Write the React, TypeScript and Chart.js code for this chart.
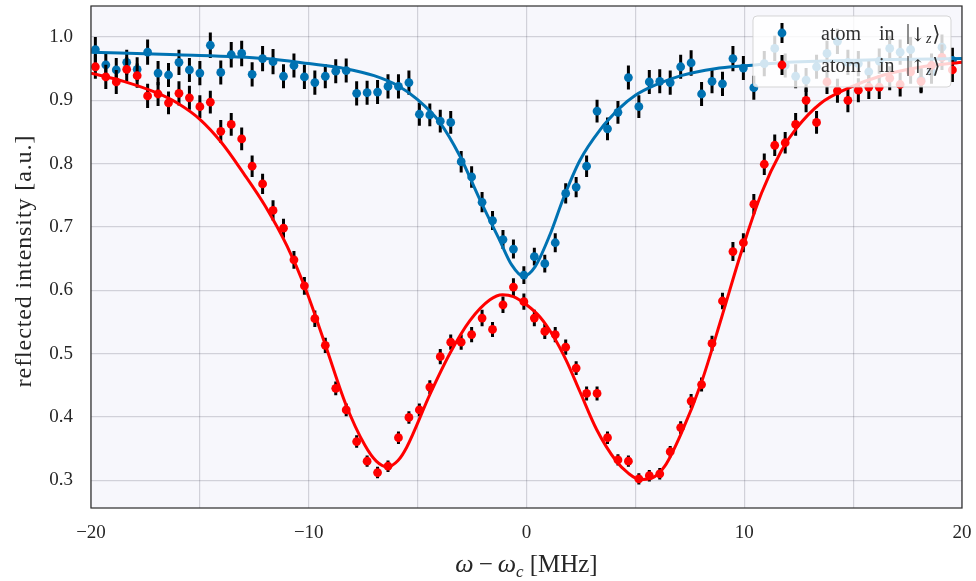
import React, { useEffect, useRef } from "react";
import { Chart, registerables } from "chart.js";

Chart.register(...registerables);

// ---------- data ----------
const detuning = [
  -19.8, -19.32, -18.84, -18.36, -17.88, -17.4, -16.92, -16.44, -15.96, -15.48,
  -15.0, -14.52, -14.04, -13.56, -13.08, -12.6, -12.12, -11.64, -11.16, -10.68,
  -10.2, -9.72, -9.24, -8.76, -8.28, -7.8, -7.32, -6.84, -6.36, -5.88,
  -5.4, -4.92, -4.44, -3.96, -3.48, -3.0, -2.52, -2.04, -1.56, -1.08,
  -0.6, -0.12, 0.36, 0.84, 1.32, 1.8, 2.28, 2.76, 3.24, 3.72,
  4.2, 4.68, 5.16, 5.64, 6.12, 6.6, 7.08, 7.56, 8.04, 8.52,
  9.0, 9.48, 9.96, 10.44, 10.92, 11.4, 11.88, 12.36, 12.84, 13.32,
  13.8, 14.28, 14.76, 15.24, 15.72, 16.2, 16.68, 17.16, 17.64, 18.12,
  18.6, 19.08, 19.56,
];

const downSignal = [
  0.980, 0.956, 0.948, 0.960, 0.949, 0.976, 0.943, 0.940, 0.960, 0.948,
  0.943, 0.987, 0.944, 0.972, 0.974, 0.941, 0.966, 0.961, 0.938, 0.955,
  0.937, 0.928, 0.938, 0.946, 0.947, 0.911, 0.912, 0.913, 0.922, 0.922,
  0.928, 0.878, 0.877, 0.867, 0.865, 0.803, 0.779, 0.739, 0.710, 0.680,
  0.665, 0.624, 0.653, 0.642, 0.675, 0.753, 0.763, 0.796, 0.883, 0.855,
  0.881, 0.936, 0.890, 0.929, 0.930, 0.928, 0.953, 0.959, 0.910, 0.930,
  0.926, 0.966, 0.951, 0.920, 0.958, 0.982, 0.955, 0.938, 0.932, 0.953,
  0.974, 0.993, 0.960, 0.958, 0.945, 0.962, 0.982, 0.976, 0.980, 0.932,
  0.945, 0.984, 0.963,
];

const downError = [
  0.020, 0.019, 0.019, 0.020, 0.019, 0.020, 0.019, 0.019, 0.020, 0.019,
  0.019, 0.020, 0.019, 0.020, 0.020, 0.019, 0.020, 0.020, 0.019, 0.019,
  0.019, 0.019, 0.019, 0.019, 0.019, 0.019, 0.019, 0.019, 0.019, 0.019,
  0.019, 0.018, 0.018, 0.018, 0.018, 0.017, 0.017, 0.016, 0.015, 0.015,
  0.015, 0.014, 0.014, 0.014, 0.015, 0.016, 0.016, 0.017, 0.018, 0.018,
  0.018, 0.019, 0.018, 0.019, 0.019, 0.019, 0.019, 0.020, 0.019, 0.019,
  0.019, 0.020, 0.019, 0.019, 0.020, 0.020, 0.019, 0.019, 0.019, 0.019,
  0.020, 0.020, 0.020, 0.020, 0.019, 0.020, 0.020, 0.020, 0.020, 0.019,
  0.019, 0.020, 0.020,
];

const upSignal = [
  0.953, 0.937, 0.929, 0.949, 0.939, 0.907, 0.910, 0.896, 0.911, 0.904,
  0.890, 0.897, 0.851, 0.862, 0.839, 0.796, 0.768, 0.726, 0.698, 0.648,
  0.607, 0.555, 0.513, 0.445, 0.411, 0.361, 0.330, 0.312, 0.322, 0.367,
  0.399, 0.411, 0.447, 0.495, 0.518, 0.518, 0.530, 0.556, 0.538, 0.577,
  0.605, 0.582, 0.556, 0.535, 0.530, 0.510, 0.477, 0.437, 0.437, 0.367,
  0.332, 0.330, 0.302, 0.307, 0.310, 0.345, 0.383, 0.425, 0.451, 0.516,
  0.583, 0.661, 0.675, 0.736, 0.799, 0.829, 0.833, 0.862, 0.900, 0.865,
  0.929, 0.915, 0.900, 0.916, 0.921, 0.921, 0.935, 0.925, 0.945, 0.930,
  0.955, 0.968, 0.948,
];

const upError = [
  0.019, 0.019, 0.019, 0.019, 0.019, 0.019, 0.019, 0.018, 0.019, 0.019,
  0.018, 0.018, 0.018, 0.018, 0.018, 0.017, 0.016, 0.016, 0.015, 0.014,
  0.014, 0.013, 0.012, 0.011, 0.010, 0.010, 0.009, 0.009, 0.009, 0.010,
  0.010, 0.010, 0.011, 0.012, 0.012, 0.012, 0.012, 0.013, 0.012, 0.013,
  0.014, 0.013, 0.013, 0.012, 0.012, 0.012, 0.011, 0.011, 0.011, 0.010,
  0.009, 0.009, 0.009, 0.009, 0.009, 0.009, 0.010, 0.011, 0.011, 0.012,
  0.013, 0.015, 0.015, 0.016, 0.017, 0.017, 0.017, 0.018, 0.019, 0.018,
  0.019, 0.019, 0.019, 0.019, 0.019, 0.019, 0.019, 0.019, 0.019, 0.019,
  0.019, 0.020, 0.019,
];

const downFitX = [
  -20, -16, -12, -10, -8.3, -7, -5.9, -5, -4, -3.06, -2.14, -1.22, -0.68, -0.15,
  0.39, 1.08, 1.69, 2.45, 3.37, 4.29, 5, 5.9, 7.1, 8.65, 10.2, 12, 16, 20,
];
const downFitY = [
  0.976, 0.972, 0.966, 0.958, 0.950, 0.939, 0.923, 0.901, 0.866, 0.812, 0.743, 0.678, 0.640, 0.622,
  0.637, 0.688, 0.745, 0.805, 0.853, 0.888, 0.908, 0.924, 0.939, 0.950, 0.955, 0.960, 0.964, 0.966,
];

const upFitX = [
  -20, -18.5, -17, -16, -15, -14, -13, -12, -11, -10.2, -9.26, -8.3, -7.42, -6.9,
  -6.4, -5.9, -5.5, -4.44, -3.52, -2.6, -1.68, -1.1, -0.6, 0, 0.61, 1.22, 1.84, 2.45,
  3.22, 4.1, 4.67, 5.21, 5.74, 6.35, 7.12, 8.04, 8.96, 9.88, 10.8, 11.7, 12.4, 13.5,
  14.7, 16.4, 18, 20,
];
const upFitY = [
  0.943, 0.930, 0.912, 0.895, 0.870, 0.833, 0.785, 0.733, 0.670, 0.607, 0.516, 0.420, 0.355, 0.330,
  0.321, 0.331, 0.352, 0.435, 0.500, 0.552, 0.585, 0.593, 0.590, 0.577, 0.558, 0.528, 0.488, 0.440,
  0.380, 0.331, 0.311, 0.301, 0.303, 0.322, 0.375, 0.455, 0.557, 0.662, 0.754, 0.820, 0.856, 0.895,
  0.918, 0.940, 0.952, 0.960,
];

const xTicks = [-20, -15, -10, -5, 0, 5, 10, 15, 20];
const xTickLabels = ["\u221220", "", "\u221210", "", "0", "", "10", "", "20"];
const yTicks = [0.3, 0.4, 0.5, 0.6, 0.7, 0.8, 0.9, 1.0];
const yTickLabels = ["0.3", "0.4", "0.5", "0.6", "0.7", "0.8", "0.9", "1.0"];

const yTitle = "reflected intensity [a.u.]";
const legendArrows = ["\u2193", "\u2191"];

// ---------- style ----------
const BLUE = "#0072B2";
const RED = "#FF0000";
const SERIF = "'Liberation Serif', 'DejaVu Serif', serif";
const TEXT = "#262626";

const toPoints = (xs: number[], ys: number[]) => xs.map((x, i) => ({ x, y: ys[i] }));

const plugin = {
  id: "custom",
  beforeDraw(chart: any) {
    const { ctx, chartArea: a } = chart;
    ctx.save();
    ctx.fillStyle = "#ffffff";
    ctx.fillRect(0, 0, chart.width, chart.height);
    ctx.fillStyle = "#f7f7fc";
    ctx.fillRect(a.left, a.top, a.right - a.left, a.bottom - a.top);
    ctx.restore();
  },
  beforeDatasetDraw(chart: any, args: any) {
    const ds = chart.data.datasets[args.index];
    if (!ds.errors) return;
    const { ctx, chartArea: a } = chart;
    const xs = chart.scales.x;
    const ys = chart.scales.y;
    ctx.save();
    ctx.beginPath();
    ctx.rect(a.left, a.top, a.right - a.left, a.bottom - a.top);
    ctx.clip();
    ctx.strokeStyle = "#000";
    ctx.lineWidth = 3;
    ctx.beginPath();
    ds.data.forEach((p: any, i: number) => {
      const px = xs.getPixelForValue(p.x);
      ctx.moveTo(px, ys.getPixelForValue(p.y - ds.errors[i]));
      ctx.lineTo(px, ys.getPixelForValue(p.y + ds.errors[i]));
    });
    ctx.stroke();
    ctx.restore();
  },
  afterDatasetsDraw(chart: any) {
    const { ctx } = chart;
    // legend box
    const bx = 753, by = 16, bw = 198, bh = 71, r = 4;
    ctx.save();
    ctx.beginPath();
    ctx.moveTo(bx + r, by);
    ctx.arcTo(bx + bw, by, bx + bw, by + bh, r);
    ctx.arcTo(bx + bw, by + bh, bx, by + bh, r);
    ctx.arcTo(bx, by + bh, bx, by, r);
    ctx.arcTo(bx, by, bx + bw, by, r);
    ctx.closePath();
    ctx.fillStyle = "rgba(255,255,255,0.82)";
    ctx.fill();
    ctx.strokeStyle = "rgba(204,204,204,0.8)";
    ctx.lineWidth = 1;
    ctx.stroke();

    const colors = [BLUE, RED];
    const rows = [33, 65];
    const MATH = "'DejaVu Serif', serif";
    rows.forEach((cy, k) => {
      const mx = 782;
      ctx.strokeStyle = "#000";
      ctx.lineWidth = 3;
      ctx.beginPath();
      ctx.moveTo(mx, cy - 10);
      ctx.lineTo(mx, cy + 10);
      ctx.stroke();
      ctx.fillStyle = colors[k];
      ctx.beginPath();
      ctx.arc(mx, cy, 4.4, 0, Math.PI * 2);
      ctx.fill();

      const base = cy + 7;
      ctx.fillStyle = "#303030";
      ctx.textBaseline = "alphabetic";
      ctx.textAlign = "left";
      ctx.font = `20px ${SERIF}`;
      ctx.fillText("atom", 821, base);
      ctx.fillText("in", 879, base);
      // |
      ctx.strokeStyle = "#303030";
      ctx.lineWidth = 1.1;
      ctx.beginPath();
      ctx.moveTo(908, base - 16);
      ctx.lineTo(908, base + 4);
      ctx.stroke();
      let x = 910;
      ctx.font = `19px ${MATH}`;
      ctx.fillText(legendArrows[k], x, base + 1);
      x += ctx.measureText(legendArrows[k]).width;
      ctx.font = `italic 14px ${SERIF}`;
      ctx.fillText("z", x, base + 3);
      x += ctx.measureText("z").width + 1;
      ctx.font = `21px ${MATH}`;
      ctx.fillText("\u27E9", x, base + 1);
    });
    ctx.restore();
  },
  afterDraw(chart: any) {
    const { ctx, chartArea: a } = chart;
    ctx.save();
    ctx.strokeStyle = "#333";
    ctx.lineWidth = 1.25;
    ctx.strokeRect(a.left, a.top, a.right - a.left, a.bottom - a.top);

    // y title
    ctx.fillStyle = TEXT;
    ctx.font = `24px ${SERIF}`;
    try { (ctx as any).letterSpacing = "0.9px"; } catch (e) { /* ignore */ }
    ctx.textAlign = "center";
    ctx.textBaseline = "middle";
    ctx.translate(25, (a.top + a.bottom) / 2 + 4);
    ctx.rotate(-Math.PI / 2);
    ctx.fillText(yTitle, 0, 0);
    ctx.restore();

    // x title: ω − ω_c [MHz]
    ctx.save();
    ctx.fillStyle = TEXT;
    ctx.textBaseline = "alphabetic";
    ctx.textAlign = "left";
    const parts = [
      { t: "\u03C9", f: `italic 26px ${SERIF}`, dy: 0, gap: 5 },
      { t: "\u2212", f: `25px ${SERIF}`, dy: 0, gap: 5 },
      { t: "\u03C9", f: `italic 26px ${SERIF}`, dy: 0, gap: 0 },
      { t: "c", f: `italic 17px ${SERIF}`, dy: 5, gap: 6 },
      { t: "[MHz]", f: `25px ${SERIF}`, dy: 0, gap: 0 },
    ];
    let total = 0;
    parts.forEach((p) => {
      ctx.font = p.f;
      total += ctx.measureText(p.t).width + p.gap;
    });
    let x = (a.left + a.right) / 2 - total / 2;
    const base = 572;
    parts.forEach((p) => {
      ctx.font = p.f;
      ctx.fillText(p.t, x, base + p.dy);
      x += ctx.measureText(p.t).width + p.gap;
    });
    ctx.restore();
  },
};

export default function App() {
  const ref = useRef<HTMLCanvasElement>(null);
  useEffect(() => {
    const chart = new Chart(ref.current as HTMLCanvasElement, {
      type: "scatter",
      data: {
        datasets: [
          {
            type: "scatter",
            label: "down",
            data: toPoints(detuning, downSignal),
            errors: downError,
            pointRadius: 4.4,
            pointBackgroundColor: BLUE,
            pointBorderWidth: 0,
            showLine: false,
            order: 4,
          } as any,
          {
            type: "scatter",
            label: "up",
            data: toPoints(detuning, upSignal),
            errors: upError,
            pointRadius: 4.4,
            pointBackgroundColor: RED,
            pointBorderWidth: 0,
            showLine: false,
            order: 3,
          } as any,
          {
            type: "line",
            label: "down fit",
            data: toPoints(downFitX, downFitY),
            borderColor: BLUE,
            borderWidth: 3,
            pointRadius: 0,
            cubicInterpolationMode: "monotone",
            fill: false,
            order: 2,
          } as any,
          {
            type: "line",
            label: "up fit",
            data: toPoints(upFitX, upFitY),
            borderColor: RED,
            borderWidth: 3,
            pointRadius: 0,
            cubicInterpolationMode: "monotone",
            fill: false,
            order: 1,
          } as any,
        ],
      },
      options: {
        animation: false,
        responsive: false,
        devicePixelRatio: 1,
        layout: { padding: { left: 0, right: 14, top: 6, bottom: 0 } },
        plugins: { legend: { display: false }, tooltip: { enabled: false } },
        scales: {
          x: {
            type: "linear",
            min: -20,
            max: 20,
            border: { display: false },
            grid: { color: "rgba(60,60,80,0.2)", lineWidth: 1.2, drawTicks: false },
            afterBuildTicks: (s: any) => {
              s.ticks = xTicks.map((v) => ({ value: v }));
            },
            afterFit: (s: any) => {
              s.height = 73;
              s.paddingLeft = 0;
              s.paddingRight = 0;
            },
            ticks: {
              autoSkip: false,
              maxRotation: 0,
              padding: 14,
              color: TEXT,
              font: { family: SERIF, size: 19 },
              callback: (v: any) => xTickLabels[xTicks.indexOf(Number(v))] ?? "",
            },
          },
          y: {
            type: "linear",
            min: 0.256,
            max: 1.049,
            border: { display: false },
            grid: { color: "rgba(60,60,80,0.2)", lineWidth: 1.2, drawTicks: false },
            afterBuildTicks: (s: any) => {
              s.ticks = yTicks.map((v) => ({ value: v }));
            },
            afterFit: (s: any) => {
              s.width = 91;
              s.paddingTop = 0;
              s.paddingBottom = 0;
            },
            ticks: {
              padding: 18,
              color: TEXT,
              font: { family: SERIF, size: 19 },
              callback: (v: any) => {
                const i = yTicks.findIndex((t) => Math.abs(t - Number(v)) < 1e-6);
                return i >= 0 ? yTickLabels[i] : "";
              },
            },
          },
        },
      },
      plugins: [plugin],
    } as any);
    return () => chart.destroy();
  }, []);

  return (
    <div style={{ position: "absolute", left: 0, top: 0, width: 976, height: 581, background: "#fff" }}>
      <canvas ref={ref} width={976} height={581} style={{ display: "block", width: 976, height: 581 }} />
    </div>
  );
}
